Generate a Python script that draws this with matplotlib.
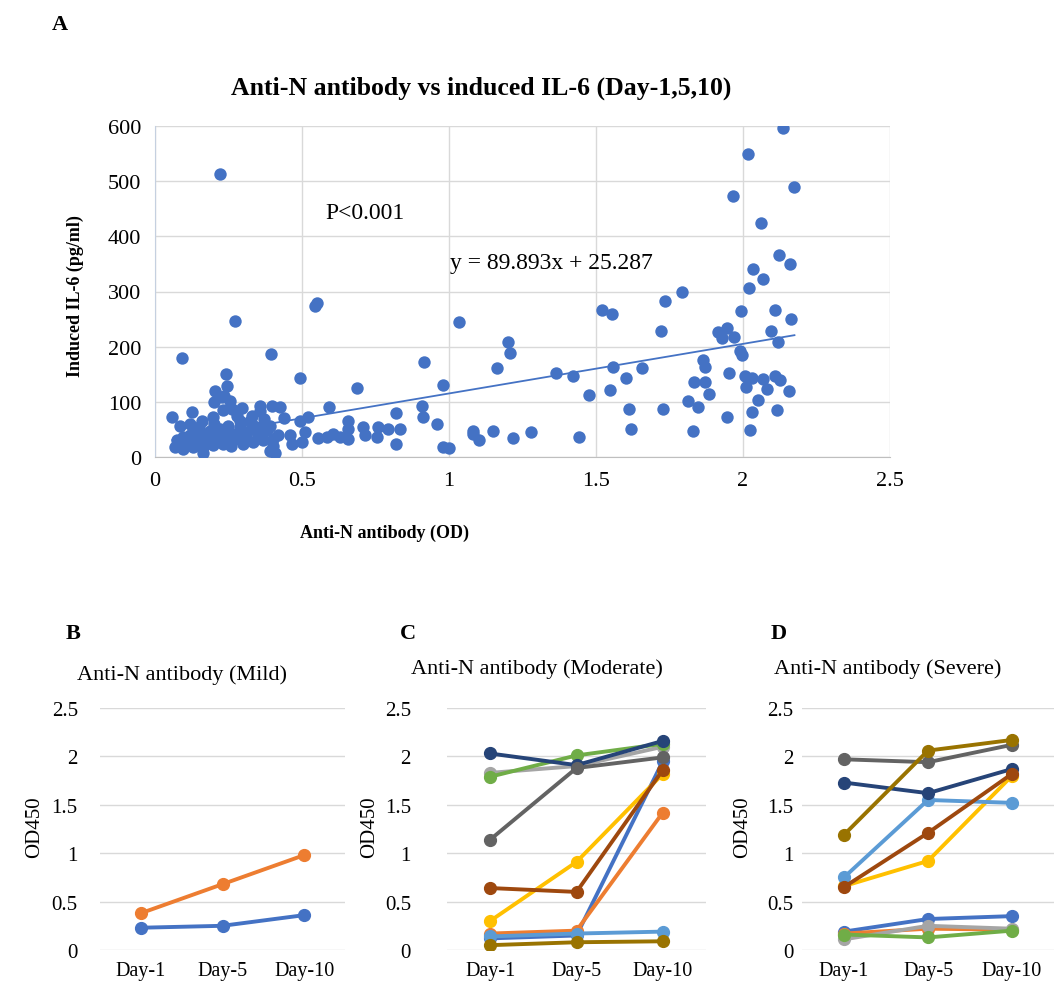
import numpy as np
import matplotlib.pyplot as plt

plt.rcParams['font.family'] = ['Liberation Serif', 'DejaVu Serif']

# panel A data: anti-N OD vs induced IL-6
anti_n_od = [
    0.221, 0.272, 0.550, 0.545, 0.093, 0.393, 0.494, 0.687, 0.916, 1.035,
    0.243, 0.246, 0.204, 0.235, 0.255, 0.200,
    0.059, 0.127, 0.085, 0.119, 0.159, 0.196, 0.227, 0.232, 0.261, 0.295,
    0.357, 0.397, 0.425, 0.357, 0.289, 0.323, 0.249, 0.221, 0.187, 0.153,
    0.130, 0.096, 0.074, 0.068, 0.096, 0.130, 0.164, 0.198, 0.232, 0.266,
    0.164, 0.142, 0.176, 0.210, 0.244, 0.283, 0.312, 0.346, 0.380, 0.300,
    0.334, 0.368, 0.402, 0.391, 0.408, 0.357, 0.391, 0.278, 0.329,
    0.110, 0.180, 0.220, 0.260, 0.310, 0.350, 0.150, 0.290, 0.370, 0.120,
    0.200, 0.250, 0.330, 0.420, 0.400,
    0.439, 0.493, 0.522, 0.593, 0.657, 0.657, 0.459, 0.465, 0.499, 0.510,
    0.555, 0.584, 0.607, 0.629, 0.657, 0.708, 0.714, 0.760, 0.794, 0.754,
    0.820, 0.833, 0.820, 0.907, 0.912, 0.958, 0.981, 1.001, 0.981,
    1.083, 1.081, 1.102, 1.149, 1.219, 1.278, 1.443, 1.200, 1.209, 1.162,
    1.364, 1.423, 1.521, 1.553, 1.557, 1.657, 1.602, 1.475, 1.548, 1.613,
    1.620, 1.727, 1.736, 1.791, 1.720,
    1.916, 1.945, 1.928, 1.969, 1.990, 1.996, 1.863, 1.872, 1.951, 1.833,
    1.870, 1.883, 1.814, 1.846, 1.947, 1.831,
    2.007, 2.030, 2.010, 2.052, 2.031, 2.025, 2.018, 1.967, 2.060, 2.033,
    2.022, 1.992,
    2.137, 2.175, 2.124, 2.160, 2.067, 2.108, 2.162, 2.095, 2.120, 2.069,
    2.109, 2.126, 2.082, 2.157, 2.117,
]
il6 = [
    513, 246, 280, 274, 179, 187, 144, 125, 173, 244,
    150, 129, 120, 111, 102, 99,
    73, 81, 57, 59, 66, 72, 108, 85, 87, 89,
    93, 93, 90, 84, 66, 66, 57, 51, 48, 45,
    43, 36, 30, 18, 14, 18, 19, 21, 24, 30,
    8, 30, 36, 39, 39, 42, 45, 47, 49, 24,
    27, 30, 33, 11, 8, 54, 57, 75, 75,
    25, 28, 33, 20, 35, 38, 55, 55, 68, 40,
    60, 45, 60, 40, 20,
    70, 66, 73, 90, 66, 51, 39, 24, 27, 45,
    34, 36, 42, 36, 33, 54, 39, 54, 51, 36,
    80, 51, 24, 93, 72, 59, 19, 16, 130,
    48, 42, 30, 47, 34, 45, 37, 208, 188, 161,
    152, 146, 267, 260, 164, 161, 143, 113, 121, 87,
    51, 87, 282, 299, 228,
    227, 234, 215, 218, 193, 185, 176, 163, 153, 136,
    136, 114, 101, 91, 72, 48,
    147, 143, 126, 103, 82, 49, 550, 474, 425, 341,
    306, 265,
    596, 489, 367, 349, 323, 267, 251, 228, 209, 141,
    146, 140, 124, 119, 86,
]
slope, intercept = 89.893, 25.287

days = ['Day-1', 'Day-5', 'Day-10']

# excel palette
c_blue, c_orange, c_gray, c_yellow = '#4472C4', '#ED7D31', '#A5A5A5', '#FFC000'
c_lblue, c_green, c_navy, c_brown = '#5B9BD5', '#70AD47', '#264478', '#9E480E'
c_dgray, c_olive = '#636363', '#997300'

# panel B (mild)
mild_blue = [0.23, 0.25, 0.36]
mild_orange = [0.38, 0.68, 0.98]

# panel C (moderate)
mod_blue = [0.12, 0.15, 1.95]
mod_orange = [0.17, 0.20, 1.42]
mod_gray = [1.83, 1.90, 2.10]
mod_yellow = [0.30, 0.91, 1.82]
mod_lblue = [0.14, 0.17, 0.19]
mod_green = [1.79, 2.01, 2.13]
mod_navy = [2.03, 1.91, 2.16]
mod_brown = [0.64, 0.60, 1.86]
mod_dgray = [1.14, 1.88, 1.99]
mod_olive = [0.05, 0.08, 0.09]

# panel D (severe)
sev_blue = [0.19, 0.32, 0.35]
sev_orange = [0.17, 0.22, 0.21]
sev_gray = [0.11, 0.25, 0.22]
sev_yellow = [0.66, 0.92, 1.80]
sev_lblue = [0.75, 1.55, 1.52]
sev_green = [0.16, 0.13, 0.20]
sev_navy = [1.73, 1.62, 1.87]
sev_brown = [0.65, 1.21, 1.82]
sev_dgray = [1.97, 1.94, 2.12]
sev_olive = [1.19, 2.06, 2.17]

W, H = 1059, 987
fig = plt.figure(figsize=(W / 100, H / 100), dpi=100)


def box(l, t, r, b):
    return [l / W, 1 - b / H, (r - l) / W, (b - t) / H]


grid_c = '#d9d9d9'

# ---- panel A ----
ax = fig.add_axes(box(155, 127, 890, 458))
ax.scatter(anti_n_od, il6, s=80, color=c_blue, zorder=3, linewidths=0)
xs = np.array([min(anti_n_od), max(anti_n_od)])
ax.plot(xs, slope * xs + intercept, color=c_blue, lw=1.3, zorder=2)
ax.set_xlim(0, 2.5)
ax.set_ylim(0, 600)
ax.set_xticks(np.arange(0, 2.51, 0.5))
ax.set_xticklabels(['0', '0.5', '1', '1.5', '2', '2.5'])
ax.set_yticks(np.arange(0, 601, 100))
ax.grid(True, color=grid_c, lw=1)
ax.set_axisbelow(True)
for s in ['top', 'right']:
    ax.spines[s].set_visible(False)
ax.spines['left'].set_color('#c5d0e0')
ax.spines['bottom'].set_color('#bfbfbf')
ax.tick_params(length=0, labelsize=16, pad=10)
ax.set_xlabel('Anti-N antibody (OD)', fontsize=13, fontweight='bold')
ax.xaxis.set_label_coords((384 - 155) / 735, -0.2)
ax.set_ylabel('Induced IL-6 (pg/ml)', fontsize=13, fontweight='bold')
ax.yaxis.set_label_coords(-(155 - 84) / 735, 0.49)
ax.text(0.578, 444, 'P<0.001', fontsize=17, va='center')
ax.text(1.003, 353, 'y = 89.893x + 25.287', fontsize=17, va='center')
fig.text(481 / W, 1 - 88 / H, 'Anti-N antibody vs induced IL-6 (Day-1,5,10)',
         fontsize=18.5, fontweight='bold', ha='center', va='center')
fig.text(52 / W, 1 - 25 / H, 'A', fontsize=16, fontweight='bold', va='center')


# ---- line panels ----
def line_panel(l, r, series, title, title_x, title_y, letter, letter_x, tick_pad, label_right):
    a = fig.add_axes(box(l, 709, r, 951))
    for vals, col in series:
        a.plot(range(3), vals, color=col, lw=2.8, marker='o', ms=8.5)
    a.set_xlim(-0.5, 2.5)
    a.set_ylim(0, 2.5)
    a.set_yticks([0, 0.5, 1, 1.5, 2, 2.5])
    a.set_yticklabels(['0', '0.5', '1', '1.5', '2', '2.5'])
    a.set_xticks(range(3))
    a.set_xticklabels(days)
    a.grid(True, axis='y', color=grid_c, lw=1)
    a.set_axisbelow(True)
    for s in a.spines.values():
        s.set_visible(False)
    a.tick_params(axis='x', length=0, labelsize=14.5, pad=8)
    a.tick_params(axis='y', length=0, labelsize=15, pad=tick_pad)
    a.set_ylabel('OD450', fontsize=15)
    a.yaxis.set_label_coords((label_right - l) / (r - l), 0.51)
    fig.text(title_x / W, 1 - title_y / H, title, fontsize=16, ha='center', va='center')
    fig.text(letter_x / W, 1 - 634 / H, letter, fontsize=16, fontweight='bold', va='center')
    return a


line_panel(100, 345,
           [(mild_blue, c_blue), (mild_orange, c_orange)],
           'Anti-N antibody (Mild)', 182, 675, 'B', 66, 16, 44)

line_panel(447, 706,
           [(mod_blue, c_blue), (mod_orange, c_orange), (mod_gray, c_gray),
            (mod_yellow, c_yellow), (mod_lblue, c_lblue), (mod_green, c_green),
            (mod_navy, c_navy), (mod_brown, c_brown), (mod_dgray, c_dgray),
            (mod_olive, c_olive)],
           'Anti-N antibody (Moderate)', 537, 669, 'C', 400, 26, 379)

line_panel(802, 1054,
           [(sev_blue, c_blue), (sev_orange, c_orange), (sev_gray, c_gray),
            (sev_yellow, c_yellow), (sev_lblue, c_lblue), (sev_green, c_green),
            (sev_navy, c_navy), (sev_brown, c_brown), (sev_dgray, c_dgray),
            (sev_olive, c_olive)],
           'Anti-N antibody (Severe)', 888, 669, 'D', 771, 6, 752)

fig.savefig('out.png', dpi=100)
